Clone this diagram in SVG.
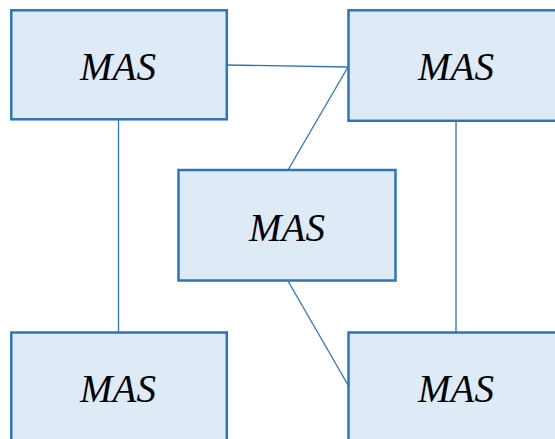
<svg xmlns="http://www.w3.org/2000/svg" width="555" height="439" viewBox="0 0 555 439">
<style>
.box{fill:#DEEAF6;stroke:#2E75B6;stroke-width:2.5}
.lbl{font-family:"Liberation Serif","Times New Roman",serif;font-style:italic;font-size:39px;fill:#000;text-anchor:middle}
.con{stroke:#2E75B6;stroke-width:1.3;fill:none}
</style>
<rect width="555" height="439" fill="#fff"/>
<g id="connectors">
<line class="con" x1="118.5" y1="120" x2="118.5" y2="332"/>
<line class="con" x1="456" y1="121" x2="456" y2="332"/>
<line class="con" x1="227" y1="65" x2="348" y2="67"/>
<line class="con" x1="348" y1="67" x2="288" y2="170"/>
<line class="con" x1="288" y1="281" x2="348" y2="385"/>
</g>
<g id="node-top-left">
<rect class="box" x="11.3" y="10.3" width="215.5" height="109"/>
<text class="lbl" x="118" y="80">MAS</text>
</g>
<g id="node-top-right">
<rect class="box" x="348.5" y="10.3" width="216" height="110.5"/>
<text class="lbl" x="456" y="80">MAS</text>
</g>
<g id="node-center">
<rect class="box" x="178.5" y="170" width="217" height="110.5"/>
<text class="lbl" x="287" y="241">MAS</text>
</g>
<g id="node-bottom-left">
<rect class="box" x="11.3" y="332.5" width="215.5" height="112"/>
<text class="lbl" x="118" y="402">MAS</text>
</g>
<g id="node-bottom-right">
<rect class="box" x="348.5" y="332.5" width="216" height="112"/>
<text class="lbl" x="456" y="402">MAS</text>
</g>
</svg>
